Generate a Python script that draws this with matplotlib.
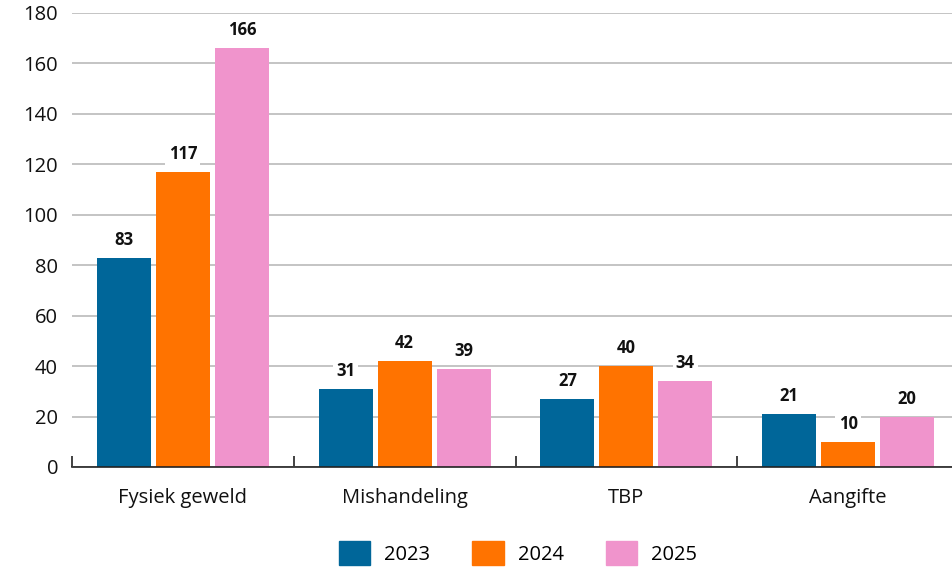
import numpy as np
import matplotlib.pyplot as plt
from matplotlib.patches import Patch

categories = ["Fysiek geweld", "Mishandeling", "TBP", "Aangifte"]
years = ["2023", "2024", "2025"]
values_2023 = [83, 31, 27, 21]
values_2024 = [117, 42, 40, 10]
values_2025 = [166, 39, 34, 20]

colors = ["#006699", "#ff7300", "#f094cc"]
plt.rcParams['font.family'] = ['Open Sans', 'DejaVu Sans']

fig = plt.figure(figsize=(9.52, 5.67), dpi=100)
W, H = 952, 567
ax = fig.add_axes([72 / W, (H - 467) / H, (959 - 72) / W, (467 - 13) / H])

x = np.arange(len(categories))
step = 0.266
width = 0.244
series = [values_2023, values_2024, values_2025]
for i, (vals, col) in enumerate(zip(series, colors)):
    pos = x + (i - 1) * step
    ax.bar(pos, vals, width=width, color=col, zorder=2)
    for px, v in zip(pos, vals):
        ax.annotate(str(v), (px, v), xytext=(0, 6.5), textcoords='offset points',
                    ha='center', va='bottom', fontsize=12, fontweight='bold',
                    color='#111111', zorder=4,
                    bbox=dict(boxstyle='square,pad=0.2', fc='white', ec='none'))

ax.set_xlim(-0.5, len(categories) - 0.5)
ax.set_ylim(0, 180)
ax.set_yticks(range(0, 181, 20))
ax.yaxis.grid(True, color='#c4c4c4', linewidth=1.4, zorder=0)
ax.set_axisbelow(True)
for s in ['top', 'right', 'left']:
    ax.spines[s].set_visible(False)
ax.spines['bottom'].set_color('#222222')
ax.spines['bottom'].set_linewidth(1.2)
ax.spines['bottom'].set_zorder(3)

ax.tick_params(axis='y', length=0, pad=10, labelsize=14.5, labelcolor='#111111')
ax.set_xticks(np.arange(len(categories) + 1) - 0.5)
ax.set_xticklabels([])
ax.tick_params(axis='x', which='major', direction='in', length=8, width=1.2, color='#222222')
ax.set_xticks(x, minor=True)
ax.set_xticklabels(categories, minor=True)
ax.tick_params(axis='x', which='minor', length=0, pad=15, labelsize=14.5, labelcolor='#111111')

handles = [Patch(color=c, label=y) for c, y in zip(colors, years)]
fig.legend(handles=handles, loc='center', bbox_to_anchor=(518 / W, (H - 553) / H),
           ncol=3, frameon=False, fontsize=14.5, handlelength=1.55, handleheight=1.4,
           handletextpad=0.7, columnspacing=2.1)

fig.savefig('out.png', dpi=100)
